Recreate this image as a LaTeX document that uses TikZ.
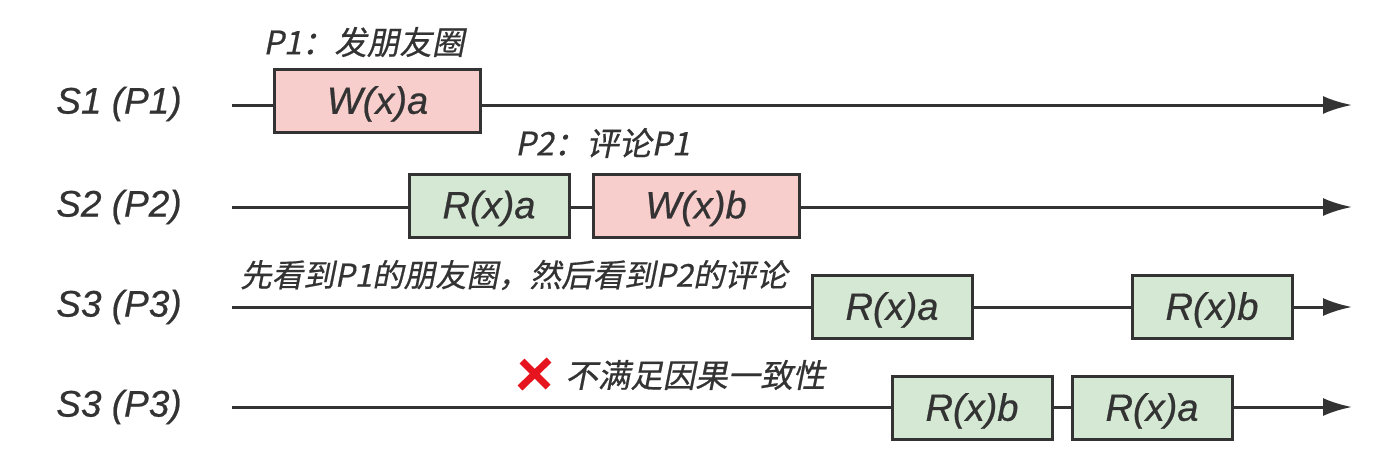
\documentclass[tikz,border=0pt]{standalone}
\usepackage{fontspec}
\setmainfont{Liberation Sans}[ItalicFeatures={FakeBold=0.6}]
\newfontfamily\cjk{Noto Sans CJK SC}[FakeSlant=0.2,FakeBold=0.6]
\usetikzlibrary{arrows.meta}
\definecolor{ink}{HTML}{333333}
\definecolor{pinkfill}{HTML}{F8CECC}
\definecolor{greenfill}{HTML}{D5E8D4}
\definecolor{xred}{HTML}{E6141E}
\tikzset{
  opbox/.style={draw=ink, line width=3pt, minimum height=63pt, inner sep=0pt,
    font=\fontsize{38}{44}\selectfont\itshape, text=ink, text depth=2pt},
  wbox/.style={opbox, fill=pinkfill, minimum width=206pt},
  rbox/.style={opbox, fill=greenfill, minimum width=160pt},
  rowlabel/.style={font=\fontsize{37}{42}\selectfont\itshape, text=ink},
  note/.style={font=\cjk\fontsize{32.5}{38}\selectfont, text=ink, inner sep=0pt, anchor=west},
  timeline/.style={draw=ink, line width=3pt, -{Latex[length=29pt,width=18pt]}},
}
\begin{document}
\begin{tikzpicture}[x=1pt,y=-1pt]
\useasboundingbox (0,0) rectangle (1394,474);
% row labels
\node[rowlabel] (l1) at (119,104) {S1 (P1)};
\node[rowlabel] (l2) at (119,207) {S2 (P2)};
\node[rowlabel] (l3) at (119,307) {S3 (P3)};
\node[rowlabel] (l4) at (119,407) {S3 (P3)};
% timeline ends
\coordinate (a1) at (232,105);
\coordinate (b1) at (1352,105);
\coordinate (a2) at (232,207);
\coordinate (b2) at (1352,207);
\coordinate (a3) at (232,307);
\coordinate (b3) at (1352,307);
\coordinate (a4) at (232,407);
\coordinate (b4) at (1352,407);
\draw[timeline] (a1) -- (b1);
\draw[timeline] (a2) -- (b2);
\draw[timeline] (a3) -- (b3);
\draw[timeline] (a4) -- (b4);
% boxes
\node[wbox] (w1) at (377.5,101) {W(x)a};
\node[rbox] (r2) at (489,205.5) {R(x)a};
\node[wbox] (w2) at (696,205.5) {W(x)b};
\node[rbox] (r3a) at (892,307) {R(x)a};
\node[rbox] (r3b) at (1212,307) {R(x)b};
\node[rbox] (r4b) at (972,408) {R(x)b};
\node[rbox] (r4a) at (1152,408) {R(x)a};
% notes
\node[note] (n1) at (263,42) {P1：发朋友圈};
\node[note] (n2) at (515,143) {P2：评论P1};
\node[note, font=\cjk\fontsize{31.5}{38}\selectfont] (n3) at (240,275) {先看到P1的朋友圈，然后看到P2的评论};
\coordinate (xc) at (535,374);
\draw[xred, line width=7pt] ([shift={(-13,-13)}]xc) -- ([shift={(13,13)}]xc);
\draw[xred, line width=7pt] ([shift={(14,-14)}]xc) -- ([shift={(-15,14)}]xc);
\node[note] (n4) at (565,375) {不满足因果一致性};
\end{tikzpicture}
\end{document}
